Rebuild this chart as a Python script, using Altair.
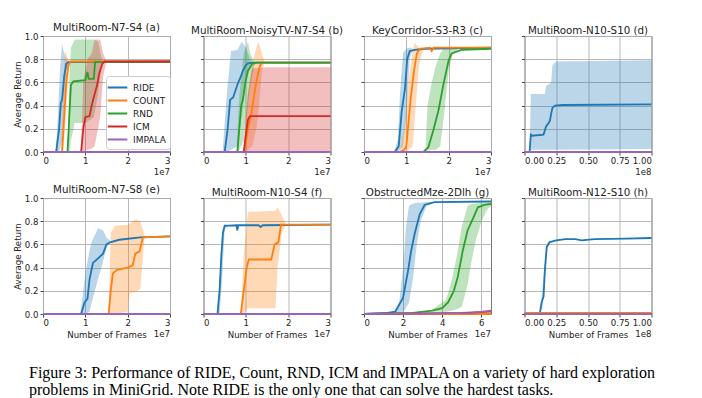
import altair as alt
import pandas as pd

METHODS = ["RIDE", "COUNT", "RND", "ICM", "IMPALA"]
COLORS = ["#1f77b4", "#ff7f0e", "#2ca02c", "#d62728", "#9467bd"]

TITLES = ["MultiRoom-N7-S4 (a)", "MultiRoom-NoisyTV-N7-S4 (b)", "KeyCorridor-S3-R3 (c)",
          "MultiRoom-N10-S10 (d)", "MultiRoom-N7-S8 (e)", "MultiRoom-N10-S4 (f)",
          "ObstructedMze-2Dlh (g)", "MultiRoom-N12-S10 (h)"]
XMAX = [3, 3, 3, 1, 3, 3, 6.5, 1]
XTICKS = [[0, 1, 2, 3], [0, 1, 2, 3], [0, 1, 2, 3], [0, 0.25, 0.5, 0.75, 1.0],
          [0, 1, 2, 3], [0, 1, 2, 3], [0, 2, 4, 6], [0, 0.25, 0.5, 0.75, 1.0]]
XFMT = ["d", "d", "d", ".2f", "d", "d", "d", ".2f"]
EXPONENT = ["1e7", "1e7", "1e7", "1e8", "1e7", "1e7", "1e7", "1e8"]
YTICKS = [0.0, 0.2, 0.4, 0.6, 0.8, 1.0]

# ---- panel (a) ----
A_RIDE = [(0, 0), (0.31, 0), (0.38, 0.2), (0.42, 0.42), (0.45, 0.45), (0.5, 0.65), (0.55, 0.76), (0.6, 0.775), (3, 0.78)]
A_RIDE_BAND = [(0.3, 0, 0), (0.35, 0, 0.3), (0.4, 0.02, 0.7), (0.45, 0.1, 0.93), (0.5, 0.4, 0.85), (0.55, 0.7, 0.8), (0.6, 0.77, 0.78)]
A_COUNT = [(0, 0), (0.45, 0), (0.5, 0.3), (0.55, 0.6), (0.6, 0.75), (0.65, 0.78), (3, 0.78)]
A_COUNT_BAND = [(0.43, 0, 0), (0.48, 0.05, 0.6), (0.52, 0.2, 0.88), (0.57, 0.5, 0.82), (0.62, 0.72, 0.79), (0.67, 0.78, 0.78)]
A_RND = [(0, 0), (0.58, 0), (0.62, 0.3), (0.66, 0.58), (0.72, 0.61), (1.0, 0.62), (1.05, 0.69), (1.08, 0.63), (1.2, 0.63), (1.23, 0.775), (3, 0.775)]
A_RND_BAND = [(0.58, 0, 0), (0.62, 0, 0.6), (0.66, 0.1, 0.9), (0.75, 0.25, 0.97), (1.0, 0.25, 0.97), (1.2, 0.3, 0.97), (1.3, 0.5, 0.95), (1.4, 0.78, 0.78)]
A_ICM = [(0, 0), (0.9, 0), (0.95, 0.2), (1.0, 0.3), (1.1, 0.31), (1.15, 0.4), (1.22, 0.5), (1.28, 0.58), (1.33, 0.68), (1.4, 0.76), (1.45, 0.78), (3, 0.78)]
A_ICM_BAND = [(0.9, 0, 0), (0.95, 0, 0.6), (1.05, 0.02, 0.8), (1.15, 0.03, 0.85), (1.22, 0.05, 0.97), (1.35, 0.3, 0.97), (1.42, 0.65, 0.85), (1.5, 0.78, 0.78)]

# ---- panel (b) ----
B_RIDE = [(0, 0), (0.5, 0), (0.57, 0.2), (0.63, 0.45), (0.7, 0.47), (0.8, 0.58), (0.88, 0.65), (0.93, 0.7), (1.0, 0.75), (1.05, 0.765), (1.2, 0.77), (3, 0.77)]
B_RIDE_BAND = [(0.45, 0, 0), (0.55, 0, 0.5), (0.65, 0.02, 0.87), (0.8, 0.05, 0.88), (0.9, 0.3, 0.95), (1.0, 0.6, 0.9), (1.1, 0.75, 0.8), (1.2, 0.77, 0.77)]
B_COUNT = [(0, 0), (0.97, 0), (1.05, 0.2), (1.13, 0.33), (1.24, 0.59), (1.33, 0.74), (1.38, 0.77), (3, 0.77)]
B_COUNT_BAND = [(0.95, 0, 0), (1.05, 0.02, 0.5), (1.15, 0.05, 0.75), (1.25, 0.2, 0.9), (1.3, 0.35, 0.95), (1.38, 0.7, 0.85), (1.45, 0.77, 0.77)]
B_RND = [(0, 0), (0.8, 0), (0.89, 0.4), (0.93, 0.45), (0.99, 0.6), (1.05, 0.7), (1.15, 0.76), (1.25, 0.77), (3, 0.77)]
B_RND_BAND = [(0.78, 0, 0), (0.85, 0.02, 0.5), (0.95, 0.1, 0.85), (1.05, 0.4, 0.95), (1.1, 0.55, 0.85), (1.2, 0.75, 0.78), (1.3, 0.77, 0.77)]
B_ICM = [(0, 0), (0.95, 0), (1.0, 0.15), (1.05, 0.28), (1.1, 0.31), (3, 0.31)]
B_ICM_BAND = [(0.95, 0, 0), (1.0, 0, 0.3), (1.05, 0, 0.5), (1.15, 0, 0.72), (1.5, 0, 0.73), (3, 0, 0.73)]

# ---- panel (c) ----
C_RIDE = [(0, 0), (0.73, 0), (0.82, 0.05), (0.89, 0.35), (0.97, 0.55), (1.02, 0.8), (1.08, 0.87), (1.2, 0.88), (1.45, 0.89), (3, 0.9)]
C_RIDE_BAND = [(0.7, 0, 0), (0.8, 0, 0.1), (0.85, 0.02, 0.5), (0.92, 0.05, 0.85), (1.0, 0.3, 0.89), (1.08, 0.8, 0.9), (1.15, 0.88, 0.89)]
C_COUNT = [(0, 0), (0.85, 0), (0.95, 0.02), (1.0, 0.05), (1.05, 0.25), (1.1, 0.45), (1.18, 0.7), (1.25, 0.85), (1.32, 0.89), (1.55, 0.9), (1.6, 0.87), (1.65, 0.9), (3, 0.9)]
C_COUNT_BAND = [(0.85, 0, 0), (0.95, 0, 0.2), (1.05, 0.02, 0.6), (1.15, 0.05, 0.88), (1.2, 0.3, 0.94), (1.3, 0.75, 0.9), (1.4, 0.89, 0.9)]
C_RND = [(0, 0), (1.4, 0), (1.52, 0.04), (1.64, 0.19), (1.76, 0.36), (1.88, 0.59), (2.0, 0.79), (2.07, 0.85), (2.3, 0.88), (3, 0.89)]
C_RND_BAND = [(1.45, 0, 0), (1.5, 0.01, 0.4), (1.6, 0.02, 0.6), (1.7, 0.02, 0.75), (1.8, 0.05, 0.85), (1.9, 0.35, 0.9), (2.0, 0.7, 0.89), (2.1, 0.85, 0.89), (2.2, 0.88, 0.89)]

# ---- panel (d) ----
D_RIDE = [(0, 0), (0.04, 0), (0.05, 0.15), (0.06, 0.14), (0.15, 0.15), (0.17, 0.22), (0.19, 0.25), (0.2, 0.27), (0.21, 0.33), (0.22, 0.38), (0.24, 0.4), (0.3, 0.405), (1, 0.41)]
D_RIDE_BAND = [(0.04, 0, 0), (0.05, 0.02, 0.5), (0.16, 0.02, 0.5), (0.17, 0.02, 0.57), (0.21, 0.02, 0.6), (0.22, 0.02, 0.75), (0.25, 0.02, 0.78), (1, 0.025, 0.79)]

# ---- panel (e) ----
E_RIDE = [(0, 0), (0.9, 0), (0.98, 0.1), (1.05, 0.13), (1.1, 0.3), (1.18, 0.44), (1.3, 0.48), (1.42, 0.52), (1.5, 0.6), (1.6, 0.62), (1.8, 0.64), (2.3, 0.66), (3, 0.67)]
E_RIDE_BAND = [(0.88, 0, 0), (0.95, 0, 0.2), (1.0, 0, 0.35), (1.1, 0.02, 0.55), (1.15, 0.1, 0.62), (1.3, 0.3, 0.74), (1.42, 0.45, 0.72), (1.5, 0.58, 0.66), (1.6, 0.62, 0.63)]
E_COUNT = [(0, 0), (1.55, 0), (1.6, 0.2), (1.65, 0.35), (1.75, 0.38), (2.0, 0.4), (2.12, 0.42), (2.18, 0.52), (2.28, 0.54), (2.36, 0.66), (3, 0.67)]
E_COUNT_BAND = [(1.55, 0, 0), (1.6, 0, 0.7), (1.7, 0, 0.76), (2.0, 0.02, 0.77), (2.05, 0.18, 0.78), (2.2, 0.19, 0.82), (2.3, 0.22, 0.8), (2.4, 0.67, 0.67)]

# ---- panel (f) ----
F_RIDE = [(0, 0), (0.33, 0), (0.38, 0.2), (0.42, 0.5), (0.46, 0.7), (0.5, 0.76), (0.78, 0.765), (0.8, 0.72), (0.82, 0.765), (1.3, 0.765), (1.35, 0.75), (1.4, 0.765), (3, 0.77)]
F_RIDE_BAND = [(0.32, 0, 0), (0.38, 0, 0.3), (0.44, 0.3, 0.72), (0.5, 0.73, 0.78), (0.55, 0.76, 0.77)]
F_COUNT = [(0, 0), (0.88, 0), (0.95, 0.2), (1.02, 0.4), (1.07, 0.47), (1.6, 0.47), (1.68, 0.6), (1.77, 0.62), (1.83, 0.77), (3, 0.77)]
F_COUNT_BAND = [(0.88, 0, 0), (0.95, 0, 0.5), (1.05, 0.05, 0.88), (1.7, 0.05, 0.89), (1.75, 0.4, 0.92), (1.85, 0.7, 0.85), (1.95, 0.77, 0.77)]

# ---- panel (g) ----
G_RIDE = [(0, 0), (1.2, 0.01), (1.6, 0.02), (2.0, 0.14), (2.25, 0.37), (2.42, 0.55), (2.59, 0.69), (2.85, 0.86), (3.1, 0.94), (3.6, 0.965), (6.5, 0.97)]
G_RIDE_BAND = [(1.5, 0.01, 0.01), (1.8, 0.01, 0.1), (2.0, 0.02, 0.4), (2.15, 0.05, 0.75), (2.3, 0.1, 0.93), (2.5, 0.3, 0.95), (2.7, 0.6, 0.96), (2.9, 0.8, 0.96), (3.2, 0.93, 0.965), (3.6, 0.96, 0.965)]
G_RND = [(0, 0), (2.5, 0.01), (3.5, 0.03), (4.0, 0.05), (4.3, 0.1), (4.6, 0.2), (4.8, 0.32), (5.06, 0.55), (5.3, 0.72), (5.57, 0.82), (5.83, 0.92), (6.17, 0.94), (6.5, 0.95)]
G_RND_BAND = [(3.5, 0.02, 0.04), (4.2, 0.02, 0.12), (4.5, 0.03, 0.3), (4.75, 0.04, 0.5), (5.0, 0.06, 0.75), (5.3, 0.25, 0.93), (5.5, 0.45, 0.95), (5.7, 0.62, 0.95), (6.0, 0.79, 0.96), (6.3, 0.9, 0.96), (6.5, 0.93, 0.96)]
G_ICM = [(0, 0), (3, 0.005), (5, 0.01), (6.5, 0.02)]
G_IMPALA = [(0, 0), (4, 0.005), (5.5, 0.01), (6.5, 0.03)]

# ---- panel (h) ----
H_RIDE = [(0, 0), (0.12, 0), (0.135, 0.1), (0.15, 0.15), (0.16, 0.37), (0.175, 0.58), (0.2, 0.62), (0.25, 0.635), (0.32, 0.645), (0.4, 0.645), (0.45, 0.635), (0.55, 0.645), (0.8, 0.65), (1.0, 0.655)]
H_RIDE_BAND = [(0.12, 0, 0), (0.14, 0.05, 0.2), (0.16, 0.3, 0.45), (0.18, 0.56, 0.62), (0.2, 0.61, 0.63)]
H_COUNT = [(0, 0.01), (1, 0.01)]

LINES = [
    {"RIDE": A_RIDE, "COUNT": A_COUNT, "RND": A_RND, "ICM": A_ICM},
    {"RIDE": B_RIDE, "COUNT": B_COUNT, "RND": B_RND, "ICM": B_ICM},
    {"RIDE": C_RIDE, "COUNT": C_COUNT, "RND": C_RND},
    {"RIDE": D_RIDE},
    {"RIDE": E_RIDE, "COUNT": E_COUNT},
    {"RIDE": F_RIDE, "COUNT": F_COUNT},
    {"RIDE": G_RIDE, "RND": G_RND, "ICM": G_ICM, "IMPALA": G_IMPALA},
    {"RIDE": H_RIDE, "COUNT": H_COUNT},
]
BANDS = [
    {"RIDE": A_RIDE_BAND, "COUNT": A_COUNT_BAND, "RND": A_RND_BAND, "ICM": A_ICM_BAND},
    {"RIDE": B_RIDE_BAND, "COUNT": B_COUNT_BAND, "RND": B_RND_BAND, "ICM": B_ICM_BAND},
    {"RIDE": C_RIDE_BAND, "COUNT": C_COUNT_BAND, "RND": C_RND_BAND},
    {"RIDE": D_RIDE_BAND},
    {"RIDE": E_RIDE_BAND, "COUNT": E_COUNT_BAND},
    {"RIDE": F_RIDE_BAND, "COUNT": F_COUNT_BAND},
    {"RIDE": G_RIDE_BAND, "RND": G_RND_BAND},
    {"RIDE": H_RIDE_BAND},
]

CAPTION = ["Figure 3: Performance of RIDE, Count, RND, ICM and IMPALA on a variety of hard exploration",
           "problems in MiniGrid. Note RIDE is the only one that can solve the hardest tasks."]

W, H = 127, 116
FONT = "DejaVu Sans"
color_scale = alt.Scale(domain=METHODS, range=COLORS)


def panel(i):
    row, col = divmod(i, 4)
    xmax = XMAX[i]
    lrows, brows = [], []
    for k, m in enumerate(METHODS):
        for x, y in LINES[i].get(m, [(0, 0), (xmax, 0)]):
            lrows.append({"method": m, "k": k, "x": x, "y": y})
        for x, lo, hi in BANDS[i].get(m, []):
            brows.append({"method": m, "k": k, "x": x, "lo": lo, "hi": hi})
    ldf = pd.DataFrame(lrows)
    bdf = pd.DataFrame(brows)

    xaxis = alt.Axis(values=XTICKS[i], format=XFMT[i], grid=True,
                     title="Number of Frames" if row == 1 else None)
    yaxis = alt.Axis(values=YTICKS, format=".1f", grid=True,
                     labels=(col == 0), title="Average Return" if col == 0 else None)
    xs = alt.Scale(domain=[0, xmax], nice=False, zero=False)
    ys = alt.Scale(domain=[0, 1], nice=False)

    band = alt.Chart(bdf).mark_area(fillOpacity=0.3).encode(
        x=alt.X("x:Q", scale=xs, axis=xaxis),
        y=alt.Y("lo:Q", scale=ys, axis=yaxis),
        y2="hi:Q",
        color=alt.Color("method:N", scale=color_scale),
        detail="method:N",
    )
    if i == 0:
        color = alt.Color("method:N", scale=color_scale, legend=alt.Legend(
            title=None, orient="none", legendX=63, legendY=40,
            symbolType="M-1.6,0H1.6", symbolSize=150, symbolStrokeWidth=2,
            symbolOpacity=1, symbolFillColor="transparent",
            labelFont=FONT, labelFontSize=9, labelColor="#222",
            fillColor="white", strokeColor="#cccccc", cornerRadius=3,
            padding=4, rowPadding=0, labelOffset=8))
    else:
        color = alt.Color("method:N", scale=color_scale)
    line = alt.Chart(ldf).mark_line(strokeWidth=1.8).encode(
        x=alt.X("x:Q", scale=xs, axis=xaxis),
        y=alt.Y("y:Q", scale=ys, axis=yaxis),
        color=color,
        order="x:Q",
    )
    exp = alt.Chart(pd.DataFrame({"t": [EXPONENT[i]]})).mark_text(
        align="right", baseline="middle", font=FONT, fontSize=8.6, color="#222"
    ).encode(x=alt.value(W), y=alt.value(H + 20), text="t:N")

    return alt.layer(band, line, exp).properties(
        width=W, height=H,
        title=alt.TitleParams(TITLES[i], font=FONT, fontSize=10.3, fontWeight="normal",
                              color="#222", offset=-1),
    )


chart = alt.concat(*[panel(i) for i in range(8)], columns=4,
                   spacing={"row": 46, "column": 33.5}, bounds="flush").properties(
    title=alt.TitleParams(CAPTION, orient="bottom", anchor="start", frame="group",
                          font="Liberation Serif", fontSize=16, fontWeight="normal",
                          color="black", lineHeight=17, offset=26, dx=-14),
    padding={"left": 4, "top": 14, "right": 0, "bottom": 4},
).configure_view(stroke="#777", strokeWidth=1).configure_axis(
    domain=False, gridColor="#b0b0b0", gridWidth=0.9, tickColor="#444", tickSize=3,
    labelFont=FONT, labelFontSize=8.6, labelColor="#222", labelPadding=1.5,
    titleFont=FONT, titleFontSize=8.6, titleFontWeight="normal", titleColor="#222",
    titlePadding=3,
).configure_axisY(labelPadding=2, titlePadding=2)

chart.save("out.html", embed_options={"renderer": "svg", "actions": False})
